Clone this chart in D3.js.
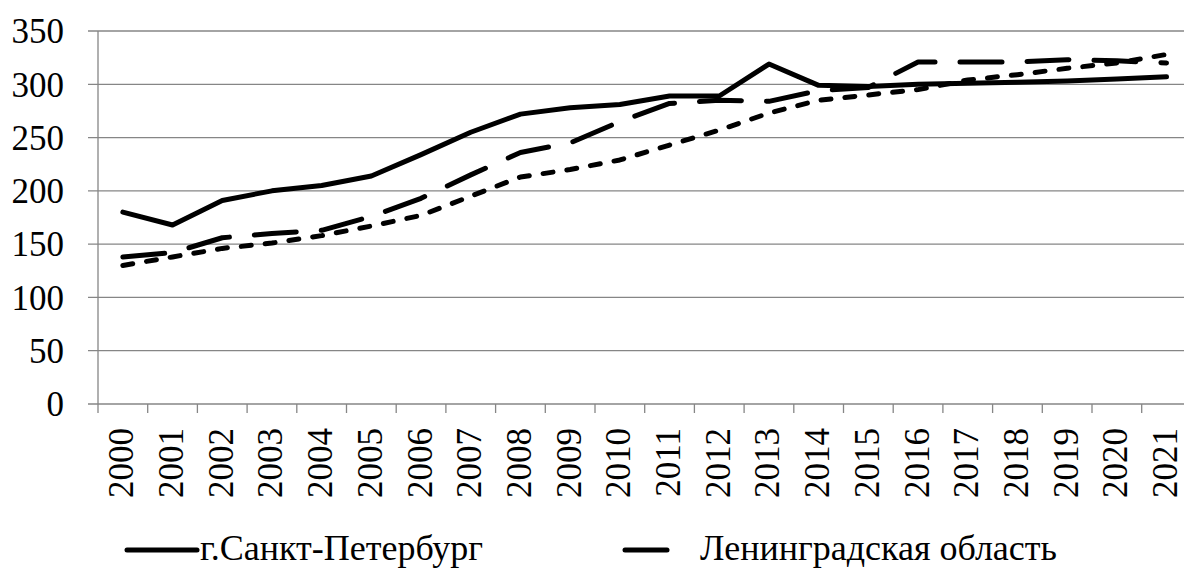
<!DOCTYPE html>
<html>
<head>
<meta charset="utf-8">
<script src="https://cdn.jsdelivr.net/npm/d3@7"></script>
<style>
  html, body { margin: 0; padding: 0; background: #fff; overflow: hidden; }
  svg { display: block; }
</style>
</head>
<body>
<div id="chart"></div>
<script>
const YEARS = ['2000', '2001', '2002', '2003', '2004', '2005', '2006', '2007', '2008', '2009', '2010',
  '2011', '2012', '2013', '2014', '2015', '2016', '2017', '2018', '2019', '2020', '2021'];

const SPB = [180, 168, 191, 200, 205, 214, 234, 255, 272, 278, 281, 289, 289, 319, 299, 298, 300, 301, 302, 303, 305, 307];
const LENOBL = [138, 142, 156, 160, 163, 176, 193, 215, 236, 245, 265, 282, 285, 284, 294, 297, 321, 321, 321, 323, 322, 320];
const THIRD = [130, 138, 146, 151, 158, 167, 177, 195, 213, 220, 229, 243, 257, 273, 285, 290, 295, 304, 309, 315, 320, 328];

const Y_TICKS = [0, 50, 100, 150, 200, 250, 300, 350];

const SERIES = [
  { name: 'г.Санкт-Петербург', values: SPB, dash: null, legend: true },
  { name: 'Ленинградская область', values: LENOBL, dash: '42,25', legend: true },
  { name: 'Российская Федерация', values: THIRD, dash: '10,14', legend: false },
];

(function () {
  const width = 1184;
  const height = 569;
  const FONT = "'Liberation Serif', Tinos, 'Times New Roman'";
  const GRID = '#868686';

  const plotLeft = 98;
  const plotRight = 98 + 22 * 49.7;
  const plotTop = 31;
  const plotBottom = 404;

  const svg = d3.select('#chart')
    .append('svg')
    .attr('width', width)
    .attr('height', height);

  const x = d3.scaleBand().domain(YEARS).range([plotLeft, plotRight]).padding(0);
  const y = d3.scaleLinear().domain([0, 350]).range([plotBottom, plotTop]);

  // horizontal grid + left ticks
  Y_TICKS.forEach(t => {
    svg.append('line')
      .attr('x1', plotLeft - 10)
      .attr('x2', plotRight)
      .attr('y1', y(t))
      .attr('y2', y(t))
      .attr('stroke', GRID)
      .attr('stroke-width', 1.3);

    svg.append('text')
      .attr('x', 64)
      .attr('y', y(t))
      .attr('dy', '0.35em')
      .attr('text-anchor', 'end')
      .style('font-family', FONT)
      .style('font-size', '35px')
      .attr('fill', '#000')
      .text(t);
  });

  // left axis
  svg.append('line')
    .attr('x1', plotLeft)
    .attr('x2', plotLeft)
    .attr('y1', plotTop)
    .attr('y2', plotBottom + 9)
    .attr('stroke', GRID)
    .attr('stroke-width', 1.3);

  // x ticks at category boundaries + rotated labels
  YEARS.forEach(yr => {
    const bx = x(yr) + x.bandwidth();
    svg.append('line')
      .attr('x1', bx)
      .attr('x2', bx)
      .attr('y1', plotBottom)
      .attr('y2', plotBottom + 9)
      .attr('stroke', GRID)
      .attr('stroke-width', 1.3);

    svg.append('text')
      .attr('transform', `translate(${x(yr) + x.bandwidth() / 2},428) rotate(-90)`)
      .attr('dy', '0.3em')
      .attr('text-anchor', 'end')
      .style('font-family', FONT)
      .style('font-size', '35px')
      .attr('fill', '#000')
      .text(yr);
  });

  // series lines
  const line = d3.line()
    .x((d, i) => x(YEARS[i]) + x.bandwidth() / 2)
    .y(d => y(d));

  SERIES.slice().reverse().forEach(s => {
    svg.append('path')
      .attr('d', line(s.values))
      .attr('fill', 'none')
      .attr('stroke', '#000')
      .attr('stroke-width', 5)
      .attr('stroke-linecap', 'round')
      .attr('stroke-linejoin', 'round')
      .attr('stroke-dasharray', s.dash);
  });

  // legend (third entry falls outside the picture)
  const legendPos = [
    { x1: 127, x2: 197, tx: 200 },
    { x1: 625, x2: 670, tx: 700 },
  ];
  SERIES.filter(s => s.legend).forEach((s, i) => {
    const p = legendPos[i];
    svg.append('line')
      .attr('x1', p.x1)
      .attr('x2', p.x2)
      .attr('y1', 550)
      .attr('y2', 550)
      .attr('stroke', '#000')
      .attr('stroke-width', 5)
      .attr('stroke-linecap', 'round')
      .attr('stroke-dasharray', s.dash);

    svg.append('text')
      .attr('x', p.tx)
      .attr('y', 560)
      .style('font-family', FONT)
      .style('font-size', '36px')
      .attr('fill', '#000')
      .text(s.name);
  });
})();
</script>
</body>
</html>
